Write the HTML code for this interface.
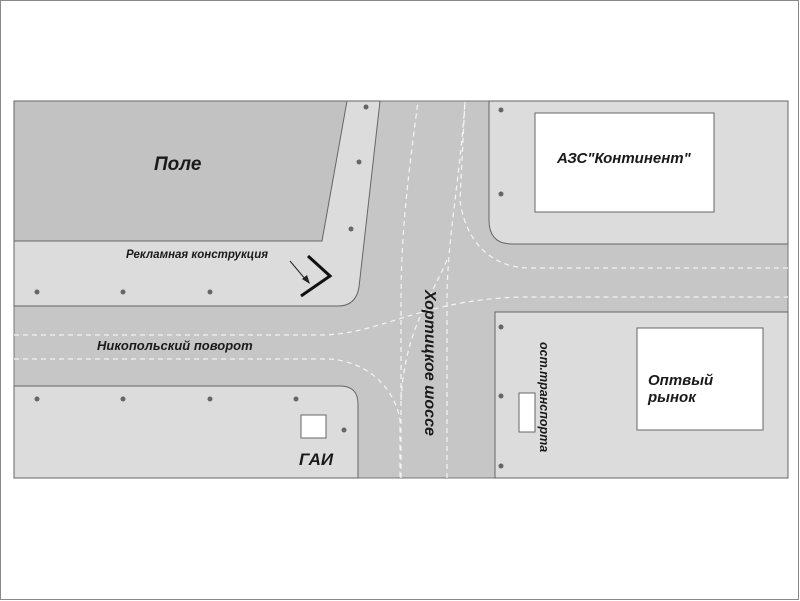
<!DOCTYPE html>
<html><head><meta charset="utf-8"><style>
body{margin:0;background:#fff;}
svg{display:block}
text{font-family:"Liberation Sans",sans-serif;font-weight:bold;font-style:italic;fill:#1a1a1a}
</style></head><body>
<svg width="800" height="601" viewBox="0 0 800 601">
<rect x="0.5" y="0.5" width="798" height="599" fill="#fff" stroke="#888"/>
<rect x="14" y="101" width="774" height="377" fill="#c6c6c6" stroke="#777" stroke-width="1"/>
<path d="M14,101 H380 L359,287 Q356,306 338,306 H14 Z" fill="#dcdcdc" stroke="#666"/>
<path d="M14,101 H347 L322,241 H14 Z" fill="#c2c2c2" stroke="#666"/>
<path d="M14,386 H340 Q358,386 358,404 V478 H14 Z" fill="#dcdcdc" stroke="#666"/>
<path d="M489,101 H788 V244 H512 Q489,244 489,220 Z" fill="#dcdcdc" stroke="#666"/>
<path d="M495,312 H788 V478 H495 Z" fill="#dcdcdc" stroke="#666"/>
<g fill="none" stroke="#f4f4f4" stroke-width="1.2" stroke-dasharray="5,4">
<path d="M14,335 H320 C380,335 420,300 520,297 H788"/>
<path d="M14,359 H330 C370,362 395,390 400,420 V478"/>
<path d="M788,268 H530 C490,268 465,240 460,200 L465,101"/>
<path d="M447,478 V300 C447,240 460,180 465,101"/>
<path d="M401,478 V300 C401,220 412,150 418,101"/>
<path d="M447,260 C430,300 405,330 401,400"/>
</g>
<rect x="535" y="113" width="179" height="99" fill="#fff" stroke="#666"/>
<rect x="637" y="328" width="126" height="102" fill="#fff" stroke="#666"/>
<rect x="519" y="393" width="16" height="39" fill="#fff" stroke="#666"/>
<rect x="301" y="415" width="25" height="23" fill="#fff" stroke="#666"/>
<g fill="#666">
<circle cx="366" cy="107" r="2.5"/><circle cx="359" cy="162" r="2.5"/><circle cx="351" cy="229" r="2.5"/>
<circle cx="37" cy="292" r="2.5"/><circle cx="123" cy="292" r="2.5"/><circle cx="210" cy="292" r="2.5"/>
<circle cx="37" cy="399" r="2.5"/><circle cx="123" cy="399" r="2.5"/><circle cx="210" cy="399" r="2.5"/><circle cx="296" cy="399" r="2.5"/><circle cx="344" cy="430" r="2.5"/>
<circle cx="501" cy="110" r="2.5"/><circle cx="501" cy="194" r="2.5"/>
<circle cx="501" cy="327" r="2.5"/><circle cx="501" cy="396" r="2.5"/><circle cx="501" cy="466" r="2.5"/>
</g>
<polyline points="308,256 330,276 301,296" fill="none" stroke="#111" stroke-width="3"/>
<line x1="290" y1="261" x2="306" y2="280" stroke="#222" stroke-width="1"/>
<polygon points="310,284 302,279 307,275" fill="#222"/>
<text x="154" y="170" font-size="19">Поле</text>
<text x="126" y="258" font-size="11.5">Рекламная конструкция</text>
<text x="97" y="350" font-size="13">Никопольский поворот</text>
<text x="299" y="465" font-size="17">ГАИ</text>
<text x="557" y="163" font-size="15">АЗС"Континент"</text>
<text x="648" y="385" font-size="15">Оптвый</text>
<text x="648" y="402" font-size="15">рынок</text>
<text transform="translate(425,290) rotate(90)" font-size="16">Хортицкое шоссе</text>
<text transform="translate(540,342) rotate(90)" font-size="12.5">ост.транспорта</text>
</svg>
</body></html>
